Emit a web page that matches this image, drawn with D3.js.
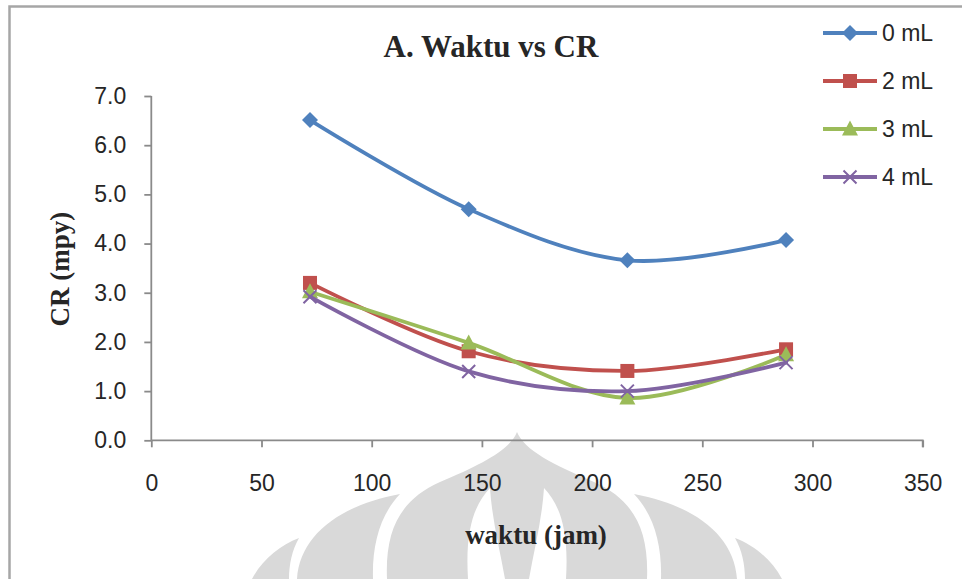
<!DOCTYPE html>
<meta charset="utf-8">
<head>
<style>
body { margin: 0; background: #fff; }
svg { display: block; }
.tick text { font: 23px "Liberation Sans", Arial, sans-serif; fill: #262626; }
.axis path, .axis line { stroke: #8a8a8a; stroke-width: 1.8px; }
.title, .axis-title { font-family: "Liberation Serif", "Times New Roman", serif; font-weight: bold; fill: #262626; }
.legend text { font: 23px "Liberation Sans", Arial, sans-serif; fill: #262626; }
</style>
<script src="https://d3js.org/d3.v7.min.js"></script>
</head>
<body>
<svg width="962" height="579"></svg>
<script>

// waktu (jam) and CR (mpy)
var hours = [72, 144, 216, 288];
var cr0 = [6.51, 4.70, 3.66, 4.07];
var cr2 = [3.20, 1.81, 1.41, 1.85];
var cr3 = [3.02, 1.98, 0.86, 1.74];
var cr4 = [2.92, 1.40, 1.00, 1.58];
var seriesNames = ["0 mL", "2 mL", "3 mL", "4 mL"];
var xTicks = [0, 50, 100, 150, 200, 250, 300, 350];
var yTicks = [0, 1, 2, 3, 4, 5, 6, 7];

var colors = ["#4f81bd", "#c0504d", "#9bbb59", "#8064a2"];
var symbols = ["diamond", "square", "triangle", "x"];

var series = [cr0, cr2, cr3, cr4].map(function(vals, i) {
  return { name: seriesNames[i], color: colors[i], symbol: symbols[i],
           values: vals.map(function(v, j) { return { x: hours[j], y: v }; }) };
});

var svg = d3.select("svg");

var x = d3.scaleLinear().domain([0, 350]).range([151.3, 922.7]);
var y = d3.scaleLinear().domain([0, 7]).range([440.3, 96]);

// faint logo watermark (symmetric about cx)
var cx = 517;
function mirror(pts) { return pts.map(function(p) { return [2 * cx - p[0], p[1]]; }); }
function shapePath(p) {
  return "M" + p[0] + "C" + p[1] + " " + p[2] + " " + p[3] + "C" + p[4] + " " + p[5] + " " + p[6] + "Z";
}
var lobe3 = [[252, 579], [262, 560], [280, 545], [299, 538], [292, 550], [289, 565], [289, 579]];
var lobe2 = [[297, 579], [300, 535], [340, 505], [400, 494], [380, 515], [372, 545], [373, 579]];
var crescent = [[468, 579], [465, 530], [474, 505], [490, 488], [492, 520], [500, 550], [505, 579]];
var wm = svg.append("g");
[lobe3, mirror(lobe3), lobe2, mirror(lobe2)].forEach(function(p) {
  wm.append("path").attr("d", shapePath(p)).attr("fill", "#d9d9d9");
});
wm.append("path")
  .attr("d", "M387,579C385,530 400,500 440,482C480,465 510,450 517,432C524,450 554,465 594,482C634,500 649,530 647,579Z")
  .attr("fill", "#d9d9d9");
[crescent, mirror(crescent)].forEach(function(p) {
  wm.append("path").attr("d", shapePath(p)).attr("fill", "#fff");
});

// chart frame (only left and top edges are in view)
svg.append("path")
  .attr("d", "M9.5,579V6.5H962")
  .attr("fill", "none")
  .attr("stroke", "#a6a6a6")
  .attr("stroke-width", 2.5);

svg.append("g")
  .attr("class", "axis")
  .attr("transform", "translate(0,440.3)")
  .call(d3.axisBottom(x).tickValues(xTicks).tickSize(7).tickPadding(27).tickFormat(d3.format("d")))
  .call(function(g) { g.select(".domain").attr("d", "M" + x(0) + ",0H" + x(350) + "V7"); });

svg.append("g")
  .attr("class", "axis")
  .attr("transform", "translate(151.3,0)")
  .call(d3.axisLeft(y).tickValues(yTicks).tickSize(7).tickPadding(18).tickFormat(d3.format(".1f")))
  .call(function(g) { g.select(".domain").attr("d", "M0," + y(0) + "V" + y(7)); });

svg.selectAll(".axis .tick text").attr("font-family", null);

// titles
svg.append("text").attr("class", "title")
  .attr("x", 491).attr("y", 57)
  .attr("text-anchor", "middle")
  .style("font-size", "31px")
  .text("A. Waktu vs CR");

svg.append("text").attr("class", "axis-title")
  .attr("transform", "translate(69,269) rotate(-90)")
  .attr("text-anchor", "middle")
  .style("font-size", "27px")
  .text("CR (mpy)");

svg.append("text").attr("class", "axis-title")
  .attr("x", 536).attr("y", 544)
  .attr("text-anchor", "middle")
  .style("font-size", "27px")
  .text("waktu (jam)");

// marker shapes
function marker(sel, sym, color) {
  if (sym === "diamond") {
    sel.append("path").attr("d", "M0,-8L8,0L0,8L-8,0Z").attr("fill", color);
  } else if (sym === "square") {
    sel.append("rect").attr("x", -7).attr("y", -7).attr("width", 14).attr("height", 14).attr("fill", color);
  } else if (sym === "triangle") {
    sel.append("path").attr("d", "M0,-8.5L8,6.5L-8,6.5Z").attr("fill", color);
  } else {
    sel.append("path").attr("d", "M-6.5,-6.5L6.5,6.5M-6.5,6.5L6.5,-6.5")
      .attr("stroke", color).attr("stroke-width", 2).attr("fill", "none");
  }
}

var line = d3.line()
  .x(function(d) { return x(d.x); })
  .y(function(d) { return y(d.y); })
  .curve(d3.curveCatmullRom.alpha(0));

var sg = svg.append("g").selectAll("g")
  .data(series)
  .enter().append("g");

sg.append("path")
  .attr("d", function(d) { return line(d.values); })
  .attr("fill", "none")
  .attr("stroke", function(d) { return d.color; })
  .attr("stroke-width", 3.8)
  .attr("stroke-linecap", "round");

sg.each(function(s) {
  d3.select(this).selectAll(".pt")
    .data(s.values)
    .enter().append("g")
      .attr("class", "pt")
      .attr("transform", function(d) { return "translate(" + x(d.x) + "," + y(d.y) + ")"; })
      .each(function() { marker(d3.select(this), s.symbol, s.color); });
});

// legend
var lg = svg.append("g").attr("class", "legend")
  .selectAll("g")
  .data(series)
  .enter().append("g")
    .attr("transform", function(d, i) { return "translate(823," + (33 + i * 48) + ")"; });

lg.append("line")
  .attr("x1", 0).attr("x2", 54)
  .attr("stroke", function(d) { return d.color; })
  .attr("stroke-width", 3.8);

lg.append("g")
  .attr("transform", "translate(27,0)")
  .each(function(d) { marker(d3.select(this), d.symbol, d.color); });

lg.append("text")
  .attr("x", 59).attr("dy", "0.36em")
  .text(function(d) { return d.name; });

</script>
</body>
